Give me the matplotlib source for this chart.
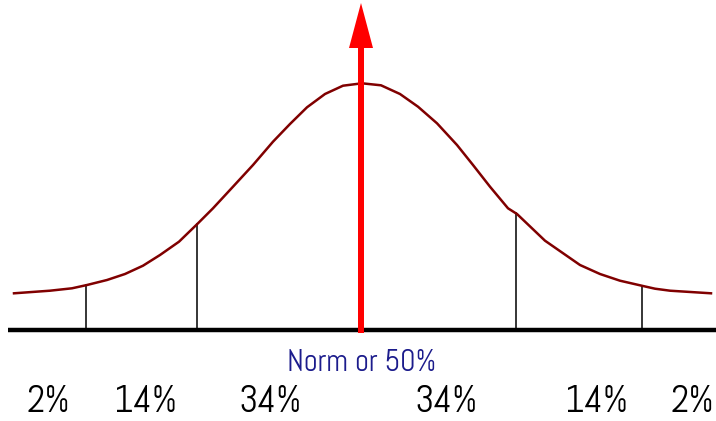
import numpy as np
import matplotlib
matplotlib.use('Agg')
import matplotlib.pyplot as plt

# bell curve (x along the axis, height above the baseline)
curve_x = [14, 50, 72, 87, 107, 125, 143, 160, 179, 198, 213, 233, 253, 273, 290,
           307, 325, 343, 362, 381, 400, 418, 437, 457, 473, 490, 508, 517, 545,
           580, 600, 620, 643, 655, 670, 711]
curve_y = [36.7, 39.3, 41.7, 45, 50, 56, 64.3, 75, 88.3, 106.7, 121.7, 143.3, 165,
           188.3, 206, 222.7, 236, 244.3, 246.7, 244.7, 236, 223.3, 206.7, 185, 165,
           143.3, 121.7, 116, 89.3, 65, 56, 49.3, 44, 41.3, 39.3, 36.7]

# standard deviation markers and the mean
sd_marks = [86, 197, 516, 642]
mean_x = 361

band_labels = ['2%', '14%', '34%', '34%', '14%', '2%']
band_x = [48, 146, 270, 446, 597, 692]

fig = plt.figure(figsize=(7.16, 4.21), dpi=100)
ax = fig.add_axes([0, 0, 1, 1])
ax.set_xlim(0, 716)
ax.set_ylim(-91, 330)
ax.axis('off')

ax.plot(curve_x, curve_y, color='#800000', lw=1.8, zorder=3)

# baseline
ax.plot([8, 716], [0, 0], color='black', lw=3.2, solid_capstyle='butt', zorder=2)

for x in sd_marks:
    top = np.interp(x, curve_x, curve_y)
    ax.plot([x, x], [0, top], color='black', lw=1.1, zorder=2)

ax.arrow(mean_x, -3, 0, 330, width=6, head_width=24, head_length=45,
         length_includes_head=True, color='red', lw=0, zorder=4)

fam = ['Abel', 'DejaVu Sans']
ax.text(mean_x + 1, -33, 'Norm or 50%', color='#1c1c8c', fontsize=22,
        ha='center', va='center', family=fam)
for lab, x in zip(band_labels, band_x):
    ax.text(x, -72, lab, color='black', fontsize=27, ha='center', va='center',
            family=fam)

fig.savefig('out.png', dpi=100)
